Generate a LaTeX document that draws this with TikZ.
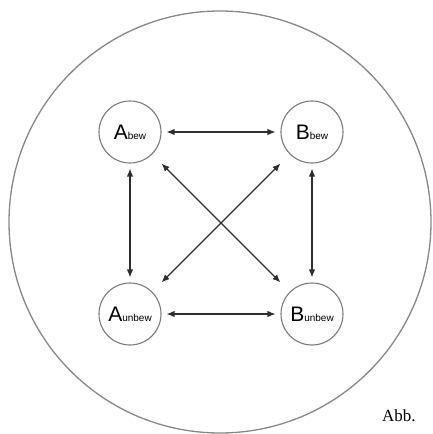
\documentclass[tikz,border=0pt]{standalone}
\usepackage{fontspec}
\newfontfamily\labfont{Liberation Sans}
\newfontfamily\capfont{Liberation Serif}
\usetikzlibrary{arrows.meta}
\definecolor{circgray}{HTML}{7A7A7A}
\definecolor{arrgray}{HTML}{2E2E2E}
\tikzset{
  state/.style={circle, draw=circgray, line width=1.1pt, minimum size=62pt, inner sep=0pt, font=\labfont},
  arr/.style={{Latex[length=8pt,width=6.5pt]}-{Latex[length=8pt,width=6.5pt]}, draw=arrgray, line width=1.2pt, shorten <=5pt, shorten >=5pt},
  diag/.style={arr, shorten <=13pt, shorten >=13pt}
}
\newcommand{\lab}[2]{{\fontsize{21}{21}\selectfont #1}{\fontsize{10}{10}\selectfont #2}}
\begin{document}
\begin{tikzpicture}[x=1pt,y=-1pt]
\useasboundingbox (0,0) rectangle (433,434);
\node[circle, draw=circgray!90, line width=1.3pt, minimum size=422pt, inner sep=0pt] (outer) at (220,222) {};
\node[state] (abew) at (130,132) {\lab{A}{bew}};
\node[state] (bbew) at (312,132) {\lab{B}{bew}};
\node[state] (aunbew) at (130,314) {\lab{A}{unbew}};
\node[state] (bunbew) at (312,314) {\lab{B}{unbew}};
\draw[arr] (abew) -- (bbew);
\draw[arr] (aunbew) -- (bunbew);
\draw[arr] (abew) -- (aunbew);
\draw[arr] (bbew) -- (bunbew);
\draw[diag] (abew) -- (bunbew);
\draw[diag] (bbew) -- (aunbew);
\node[anchor=base west, inner sep=0pt, font=\capfont\fontsize{17}{17}\selectfont] (abb) at (382,421) {Abb.};
\end{tikzpicture}
\end{document}
